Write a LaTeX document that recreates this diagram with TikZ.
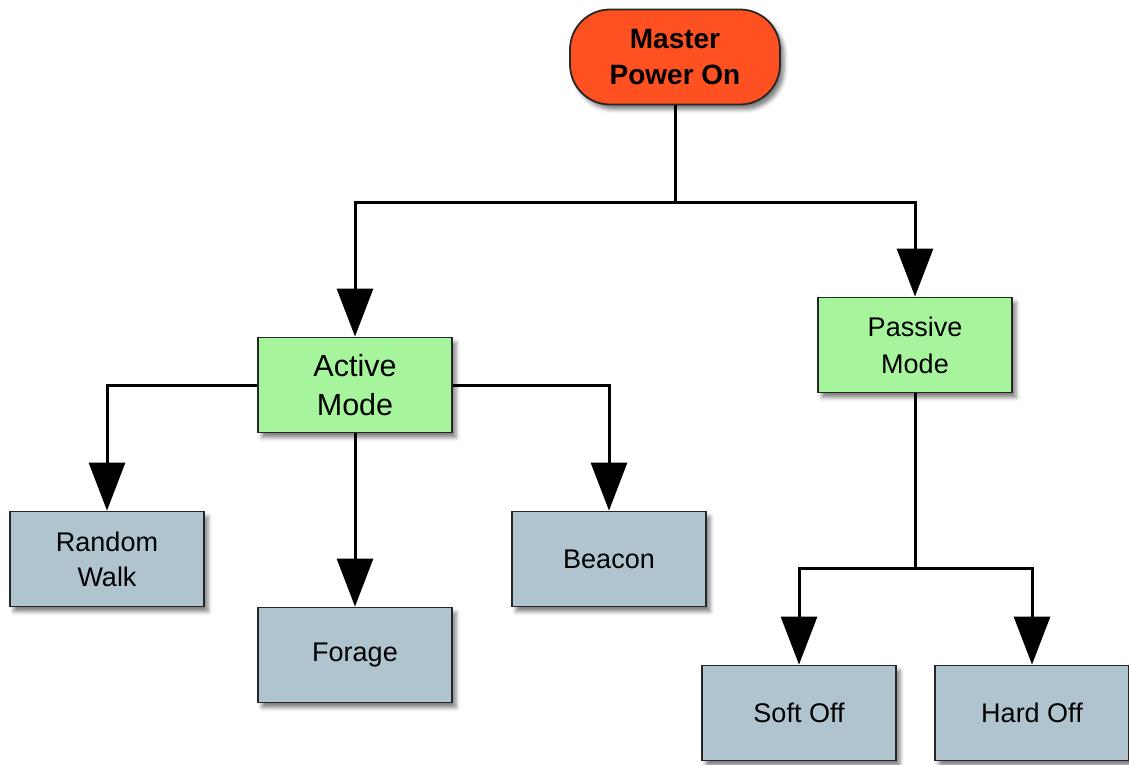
\documentclass[tikz,border=0pt]{standalone}
\usepackage{fontspec}
\setmainfont{Liberation Sans}
\usetikzlibrary{arrows.meta,shadows.blur}
\definecolor{masterfill}{HTML}{FF5022}
\definecolor{modefill}{HTML}{A6F59C}
\definecolor{leaffill}{HTML}{AFC4CE}
\tikzset{
  boxshadow/.style={blur shadow={shadow xshift=4pt,shadow yshift=-5pt,shadow blur radius=4pt,shadow opacity=50}},
  basebox/.style={draw=black!85,line width=1.8pt,minimum width=194pt,minimum height=95pt,inner sep=0pt,align=center,text=black,boxshadow},
  masterbox/.style={basebox,fill=masterfill,rounded corners=40pt,minimum width=210pt,font=\fontsize{28}{36}\selectfont\bfseries},
  activebox/.style={basebox,fill=modefill,font=\fontsize{30.5}{39}\selectfont},
  modebox/.style={basebox,fill=modefill,font=\fontsize{27}{37}\selectfont},
  leafbox/.style={basebox,fill=leaffill,font=\fontsize{27}{35}\selectfont},
  conn/.style={line width=3pt,draw=black},
  arr/.style={conn,-{Triangle[length=48pt,width=36pt]}},
}
\begin{document}
\begin{tikzpicture}[x=1pt,y=-1pt]
\useasboundingbox (0,0) rectangle (1129,764);
\node[masterbox] (master) at (675,57) {Master\\Power On};
\node[activebox] (active) at (355,385) {Active\\Mode};
\node[modebox] (passive) at (915,345) {Passive\\Mode};
\node[leafbox] (random) at (107,559) {Random\\Walk};
\node[leafbox] (forage) at (355,655) {Forage};
\node[leafbox] (beacon) at (609,559) {Beacon};
\node[leafbox] (soft) at (799,713) {Soft Off};
\node[leafbox] (hard) at (1032,713) {Hard Off};
\coordinate (j1) at (675,202);
\coordinate (j2) at (915,568);
\draw[conn] (master.south) -- (j1);
\draw[arr] (j1) -| (active.north);
\draw[arr] (j1) -| (passive.north);
\draw[arr] (active.west) -| (random.north);
\draw[arr] (active.south) -- (forage.north);
\draw[arr] (active.east) -| (beacon.north);
\draw[conn] (passive.south) -- (j2);
\draw[arr] (j2) -| (soft.north);
\draw[arr] (j2) -| (hard.north);
\end{tikzpicture}
\end{document}
